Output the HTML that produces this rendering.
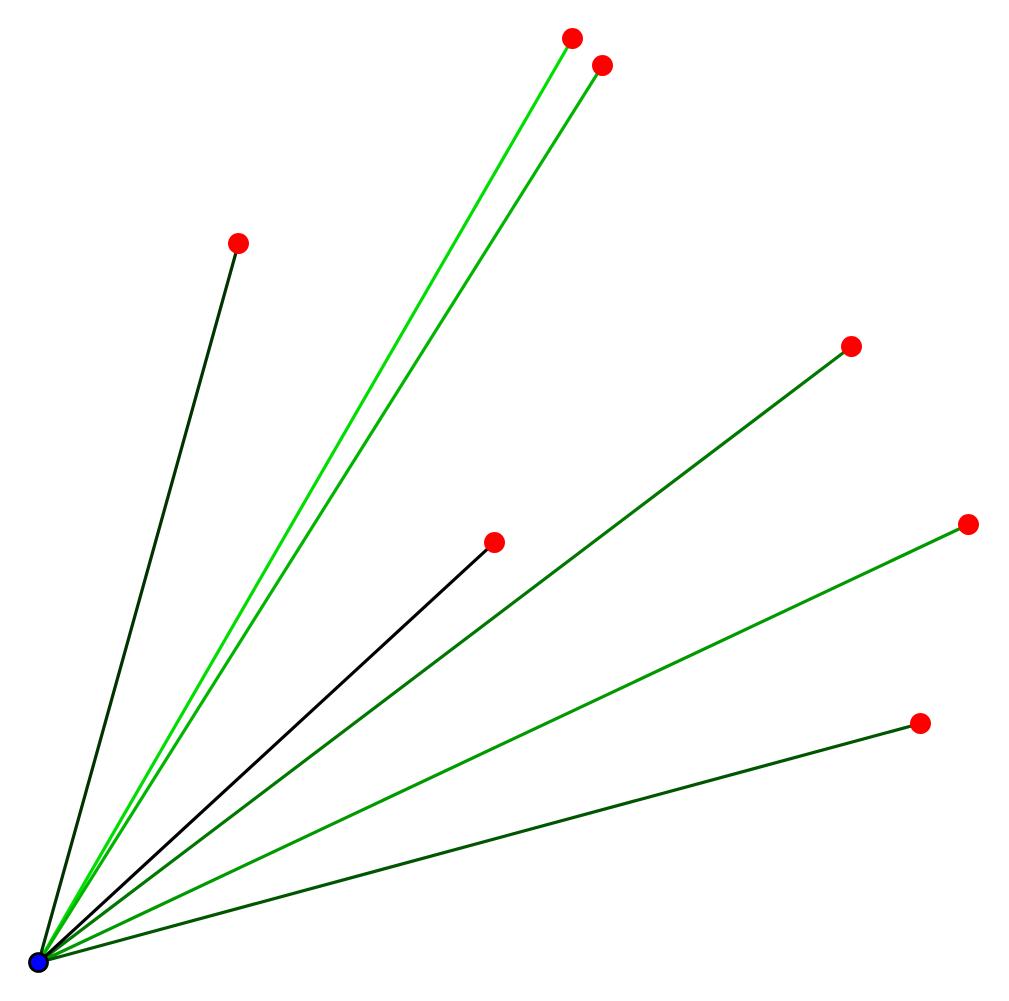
<!DOCTYPE html>
<html><head><meta charset="utf-8"><style>html,body{margin:0;padding:0;background:#fff}svg{display:block}</style></head>
<body>
<svg id="chart" width="1009" height="1001" viewBox="0 0 1009 1001" xmlns="http://www.w3.org/2000/svg"></svg>
<script>
const nodeX = [534, 564, 200, 813, 456, 930, 882];
const nodeY = [924, 897, 719, 616, 420, 438, 239];
const edgeColors = ["#00dd00", "#00b400", "#003300", "#007700", "#000000", "#009900", "#005500"];
const originX = 0, originY = 0;

const sx = v => 38.5 + v;
const sy = v => 962.5 - v;
const svg = document.getElementById('chart');
const NS = 'http://www.w3.org/2000/svg';

for (let i = 0; i < nodeX.length; i++) {
  const l = document.createElementNS(NS, 'line');
  
  
  l.setAttribute('x1', sx(originX)); l.setAttribute('y1', sy(originY));
  l.setAttribute('x2', sx(nodeX[i])); l.setAttribute('y2', sy(nodeY[i]));
  l.setAttribute('stroke', edgeColors[i]); l.setAttribute('stroke-width', '3.2');
  svg.appendChild(l);
}
for (let i = 0; i < nodeX.length; i++) {
  const c = document.createElementNS(NS, 'circle');
  
  
  c.setAttribute('cx', sx(nodeX[i])); c.setAttribute('cy', sy(nodeY[i]));
  c.setAttribute('r', '10.5'); c.setAttribute('fill', '#ff0000');
  svg.appendChild(c);
}
const o = document.createElementNS(NS, 'circle');


o.setAttribute('cx', sx(originX)); o.setAttribute('cy', sy(originY));
o.setAttribute('r', '9'); o.setAttribute('fill', '#0000ff');
o.setAttribute('stroke', '#000'); o.setAttribute('stroke-width', '2.8');
svg.appendChild(o);
</script>
</body></html>
